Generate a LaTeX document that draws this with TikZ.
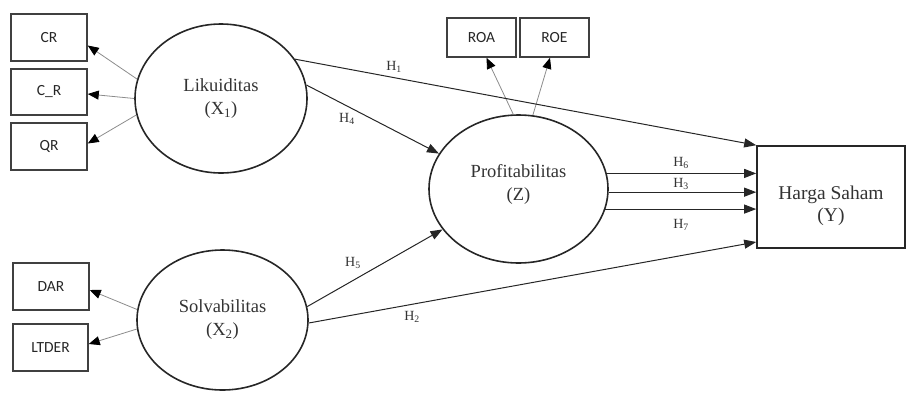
\documentclass[tikz,border=0pt]{standalone}
\usepackage{fontspec}
\setmainfont{Liberation Serif}
\newfontfamily\boxfont{Carlito}
\usetikzlibrary{arrows.meta,shapes.geometric}
\begin{document}
\begin{tikzpicture}[x=1pt,y=-1pt,
  construct/.style={ellipse,draw=black!85,line width=1.6pt,inner sep=0pt,
    font=\fontsize{18.5}{23}\selectfont,text=black!80,align=center},
  indbox/.style={rectangle,draw=black!75,line width=1.5pt,inner sep=0pt,
    font=\boxfont\fontsize{15.5}{18}\selectfont,text=black!85},
  hyp/.style={draw=black!85,line width=1pt,-{Triangle[length=12pt,width=9pt]}},
  ind/.style={draw=black!45,line width=0.8pt,-{Triangle[length=11pt,width=9pt,color=black]}},
  hlab/.style={font=\fontsize{14}{16}\selectfont,text=black!80,inner sep=0pt}
]
\useasboundingbox (0,0) rectangle (907,397);

% indicator boxes
\node[indbox,minimum width=76pt,minimum height=47pt] (cr) at (49,37.5) {CR};
\node[indbox,minimum width=76pt,minimum height=46pt] (cr2) at (49,92) {C\_R};
\node[indbox,minimum width=76pt,minimum height=47pt] (qr) at (49,146.5) {QR};
\node[indbox,minimum width=76pt,minimum height=47pt] (dar) at (51,286.5) {DAR};
\node[indbox,minimum width=75pt,minimum height=47pt] (ltder) at (50.5,347.5) {LTDER};
\node[indbox,minimum width=69pt,minimum height=39pt] (roa) at (481.5,37.5) {ROA};
\node[indbox,minimum width=69pt,minimum height=39pt] (roe) at (554.5,37.5) {ROE};

% constructs
\node[construct,minimum width=172pt,minimum height=149pt] (lik) at (221,98.5) {Likuiditas\\(X\textsubscript{1})};
\node[construct,minimum width=171pt,minimum height=140pt] (sol) at (222.5,320) {Solvabilitas\\(X\textsubscript{2})};
\node[construct,minimum width=179pt,minimum height=148pt] (prof) at (518.5,189) {\raisebox{0pt}[0pt][0pt]{\begin{tabular}{@{}c@{}}Profitabilitas\\(Z)\end{tabular}}};
\node[rectangle,draw=black!85,line width=1.6pt,minimum width=148pt,minimum height=102pt,
  font=\fontsize{19.5}{22}\selectfont,text=black!80] (harga) at (831,197)
  {\raisebox{-14pt}[0pt][0pt]{\begin{tabular}{@{}c@{}}Harga Saham\\(Y)\end{tabular}}};

% indicator arrows
\draw[ind] (lik.167.5) -- ([yshift=-8pt]cr.east);
\draw[ind] (lik.180) -- ([yshift=-2pt]cr2.east);
\draw[ind] (lik.191) -- ([yshift=3pt]qr.east);
\draw[ind] (sol.173.7) -- ([yshift=-3.5pt]dar.east);
\draw[ind] (sol.186.3) -- ([yshift=3.5pt]ltder.east);
\draw[ind] (prof.94.3) -- ([xshift=5pt]roa.south);
\draw[ind] (prof.79.8) -- ([xshift=-4.5pt]roe.south);

% hypotheses
\draw[hyp] (lik.28.7) -- (harga.north west);
\draw[hyp] (lik.9.1) -- (prof.156.6);
\draw[hyp] (sol.9.4) -- (prof.208.8);
\draw[hyp] (sol.-2) -- ([yshift=-45pt]harga.west);
\draw[hyp] (prof.10.4) -- (prof.10.4 -| harga.west);
\draw[hyp] (prof.-2.6) -- (prof.-2.6 -| harga.west);
\draw[hyp] (prof.-13.8) -- (prof.-13.8 -| harga.west);

% labels
\node[hlab] (h1) at (394,67) {H\textsubscript{1}};
\node[hlab] (h4) at (347,119) {H\textsubscript{4}};
\node[hlab] (h5) at (353,263) {H\textsubscript{5}};
\node[hlab] (h2) at (412,317) {H\textsubscript{2}};
\node[hlab] (h6) at (681,163) {H\textsubscript{6}};
\node[hlab] (h3) at (681,184) {H\textsubscript{3}};
\node[hlab] (h7) at (681,225) {H\textsubscript{7}};
\end{tikzpicture}
\end{document}
